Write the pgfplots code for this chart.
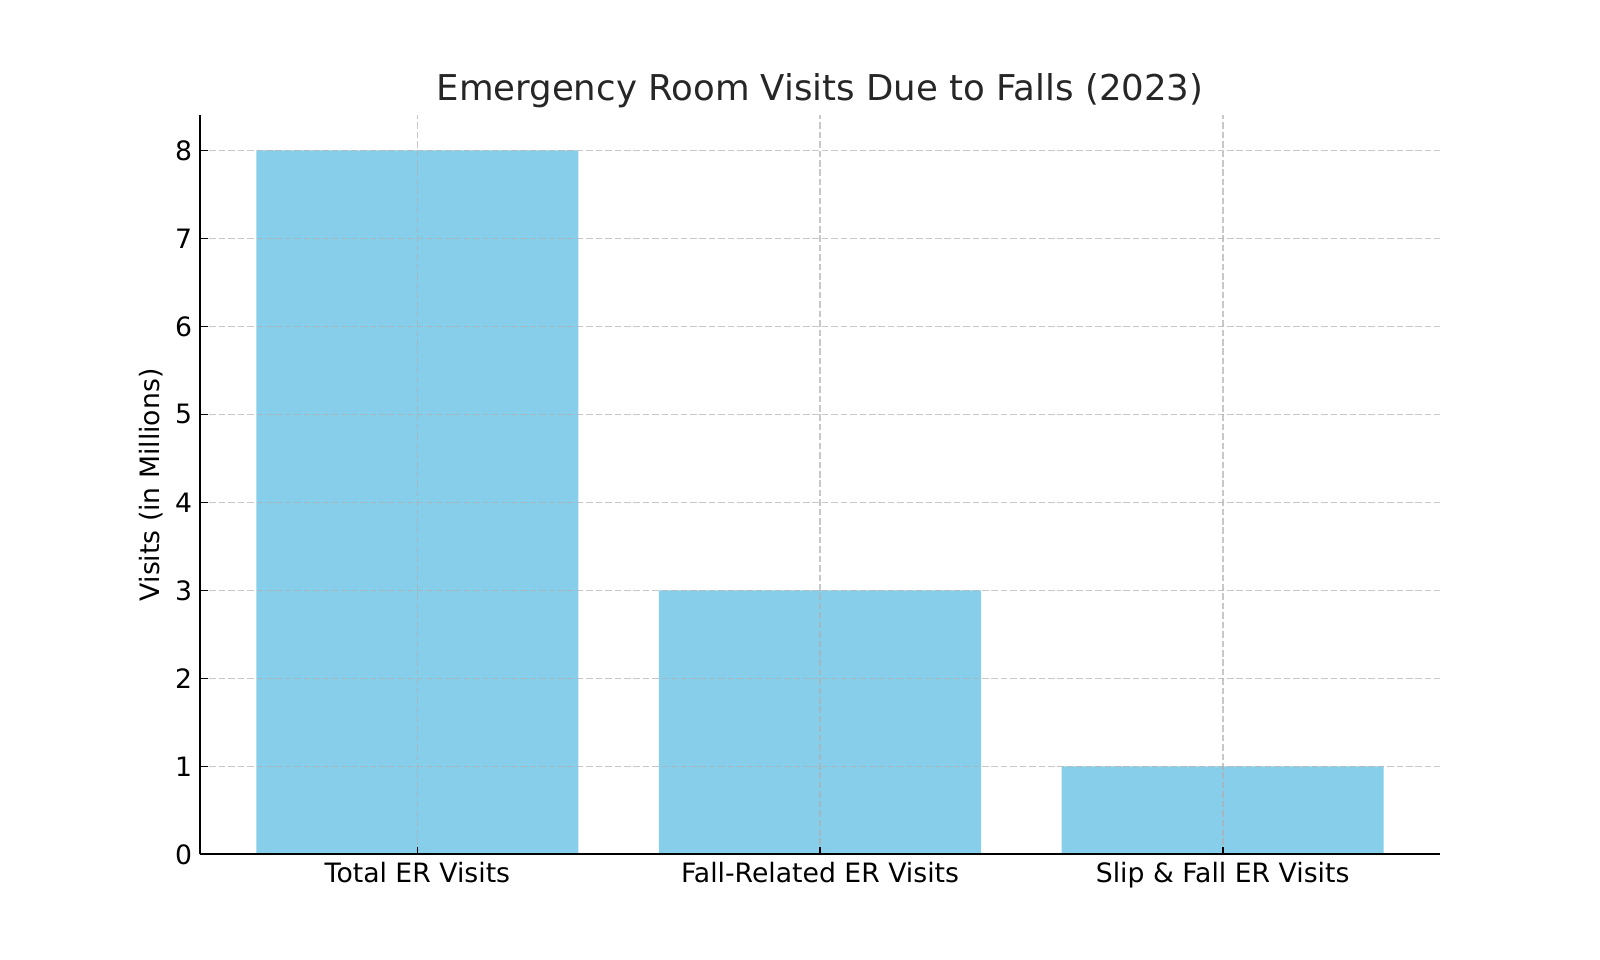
\documentclass[border=0pt]{standalone}
\usepackage{fontspec}
\setmainfont{DejaVu Sans}
\usepackage{pgfplots}
\pgfplotsset{compat=1.18}

\definecolor{SkyBlue}{RGB}{135,206,235}
\definecolor{GridGray}{RGB}{176,176,176}
\definecolor{TitleGray}{RGB}{38,38,38}

\begin{document}
\begin{tikzpicture}
\useasboundingbox (0,0) rectangle (720bp,432bp);
\begin{axis}[
    at={(90bp,47.52bp)}, anchor=south west,
    scale only axis,
    width=558bp, height=332.64bp,
    axis on top,
    axis lines*=left,
    axis line style={-, line width=0.9bp, black},
    every outer x axis line/.append style={-},
    every outer y axis line/.append style={-},
    xmin=-0.54, xmax=2.54,
    ymin=0, ymax=8.4,
    xtick={0,1,2},
    xticklabels={Total ER Visits, Fall-Related ER Visits, Slip \& Fall ER Visits},
    ytick={0,1,...,8},
    tick align=inside,
    major tick length=3.5bp,
    tick style={black, line width=0.8bp},
    grid=major,
    major grid style={GridGray, opacity=0.7, line width=0.8bp, dash pattern=on 2.96bp off 1.28bp},
    /pgf/number format/assume math mode=true,
    tick label style={font=\fontsize{12bp}{14bp}\selectfont},
    ylabel={Visits (in Millions)},
    ylabel style={font=\fontsize{12bp}{14bp}\selectfont, at={(axis description cs:-0.0391,0.5)}, anchor=center},
    title={Emergency Room Visits Due to Falls (2023)},
    title style={font=\fontsize{16bp}{19bp}\selectfont, text=TitleGray, at={(axis description cs:0.5,1)}, anchor=base, yshift=0.5bp},
]
\addplot[ybar, bar width=0.8, fill=SkyBlue, draw=none] coordinates {
    (0,8) (1,3) (2,1)
};
\end{axis}
\end{tikzpicture}
\end{document}
